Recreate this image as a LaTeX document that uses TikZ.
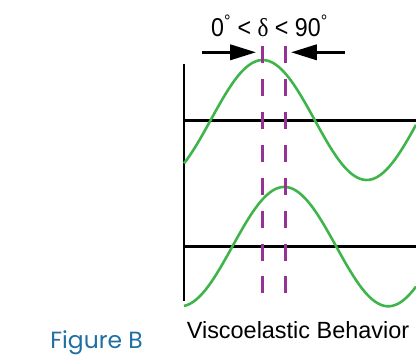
\documentclass[tikz,border=0pt]{standalone}
\usepackage{fontspec}
\setmainfont{Liberation Sans}
\newfontfamily\figfont{Poppins}
\newfontfamily\greekfont{Liberation Serif}
\usetikzlibrary{arrows.meta}
\definecolor{wavegreen}{RGB}{62,180,74}
\definecolor{lagpurple}{RGB}{150,50,150}
\definecolor{figblue}{RGB}{31,111,165}
\tikzset{
  axisline/.style={line width=2.4pt, black},
  wave/.style={line width=2.2pt, wavegreen, smooth, samples=80},
  lagline/.style={line width=2.2pt, lagpurple, dash pattern=on 14.5pt off 13.6pt},
  lagarrow/.style={-{Triangle[length=22pt, width=13pt]}, line width=2.4pt},
  label/.style={font=\fontsize{20}{24}\selectfont, inner sep=0pt, anchor=base}
}

\begin{document}
\begin{tikzpicture}[x=0.03cm, y=-0.03cm]
  \useasboundingbox (0,0) rectangle (416,356);
  % axes
  \coordinate (ytop) at (184,64);
  \coordinate (ybot) at (184,300.7);
  \coordinate (upleft) at (184,120.4);
  \coordinate (upright) at (416,120.4);
  \coordinate (lowleft) at (184,246.7);
  \coordinate (lowright) at (416,246.7);
  \draw[axisline] (ytop) -- (ybot);
  \draw[axisline] (upleft) -- (upright);
  \draw[axisline] (lowleft) -- (lowright);
  % stress and strain (period 208 px)
  \draw[wave] plot[domain=184:416] (\x, {120-60*cos((\x-262.7)*1.7308)});
  \draw[wave] plot[domain=184:416] (\x, {246.6-59.7*cos((\x-284.3)*1.7308)});
  % phase lag
  \coordinate (stresstop) at (262.3,46);
  \coordinate (stressbot) at (262.3,294);
  \coordinate (straintop) at (285.3,46);
  \coordinate (strainbot) at (285.3,294);
  \draw[lagline] (stresstop) -- (stressbot);
  \draw[lagline] (straintop) -- (strainbot);
  \coordinate (leftstart) at (201.7,52.3);
  \coordinate (leftend) at (256,52.3);
  \coordinate (rightstart) at (345,52.3);
  \coordinate (rightend) at (291,52.3);
  \draw[lagarrow] (leftstart) -- (leftend);
  \draw[lagarrow] (rightstart) -- (rightend);
  \node[label, font=\fontsize{22}{26}\selectfont] (deltalabel) at (269.5,36)
    {\scalebox{0.9}[1]{0\textsuperscript{°} < {\greekfont δ} < 90\textsuperscript{°}}};
  \node[label] (caption) at (298,338) {Viscoelastic Behavior};
  \node[label, font=\figfont\fontsize{20}{24}\selectfont, text=figblue] (figlabel) at (96.5,348) {Figure B};
\end{tikzpicture}
\end{document}
